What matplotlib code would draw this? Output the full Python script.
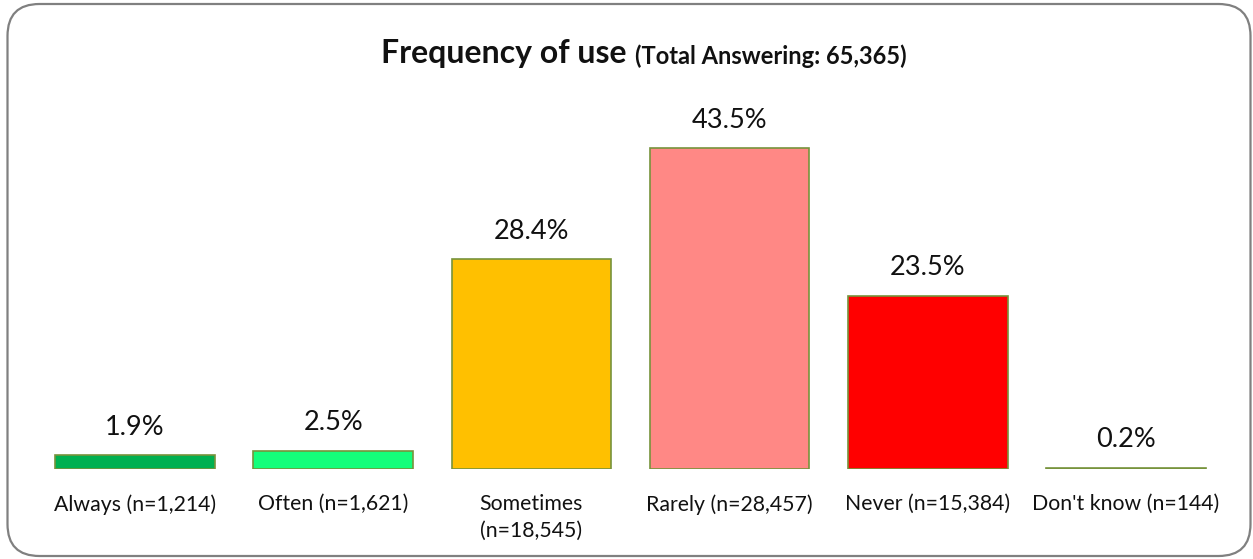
import matplotlib.pyplot as plt
from matplotlib.patches import FancyBboxPatch

# survey answers
categories = ["Always (n=1,214)", "Often (n=1,621)", "Sometimes\n(n=18,545)",
              "Rarely (n=28,457)", "Never (n=15,384)", "Don't know (n=144)"]
percent = [1.9, 2.5, 28.4, 43.5, 23.5, 0.2]
bar_colors = ["#00B050", "#14FF7A", "#FFC000", "#FF8885", "#FF0000", "#FFFFFF"]

plt.rcParams['font.family'] = ['Lato', 'DejaVu Sans']

W, H = 12.53, 5.59
fig = plt.figure(figsize=(W, H), dpi=100)

# rounded outer frame, in inches
frame = FancyBboxPatch((0.075, 0.03), 12.43, 5.52,
                       boxstyle="round,pad=0,rounding_size=0.32",
                       transform=fig.dpi_scale_trans, facecolor="white",
                       edgecolor="#808080", linewidth=1.6, zorder=-5)
fig.patches.append(frame)

ax = fig.add_axes([0.0287, 0.161, 0.949, 0.66])
x = range(len(categories))
bars = ax.bar(x, percent, width=0.805, color=bar_colors,
              edgecolor="#77933C", linewidth=1.2)
ax.set_xlim(-0.5, len(categories) - 0.5)
ax.set_ylim(0, 50)

for b, v in zip(bars, percent):
    ax.annotate(f"{v:.1f}%", (b.get_x() + b.get_width() / 2, v),
                xytext=(0, 14.5), textcoords="offset points",
                ha="center", va="baseline", fontsize=19.5, color="#111111")

ax.set_xticks(list(x))
ax.set_xticklabels(categories, fontsize=15.3, color="#111111", linespacing=1.4)
ax.tick_params(axis="x", length=0, pad=18)
ax.set_yticks([])
for s in ax.spines.values():
    s.set_visible(False)
ax.patch.set_alpha(0)

title = fig.text(0.304, 0.887, "Frequency of use", fontsize=23, fontweight="bold",
                 ha="left", va="baseline", color="#111111")
fig.canvas.draw()
ax.annotate("(Total Answering: 65,365)", xy=(1, 0), xycoords=title,
            xytext=(6, 0), textcoords="offset points", fontsize=17,
            fontweight="bold", ha="left", va="bottom", color="#111111",
            annotation_clip=False)

fig.savefig("out.png", dpi=100)
